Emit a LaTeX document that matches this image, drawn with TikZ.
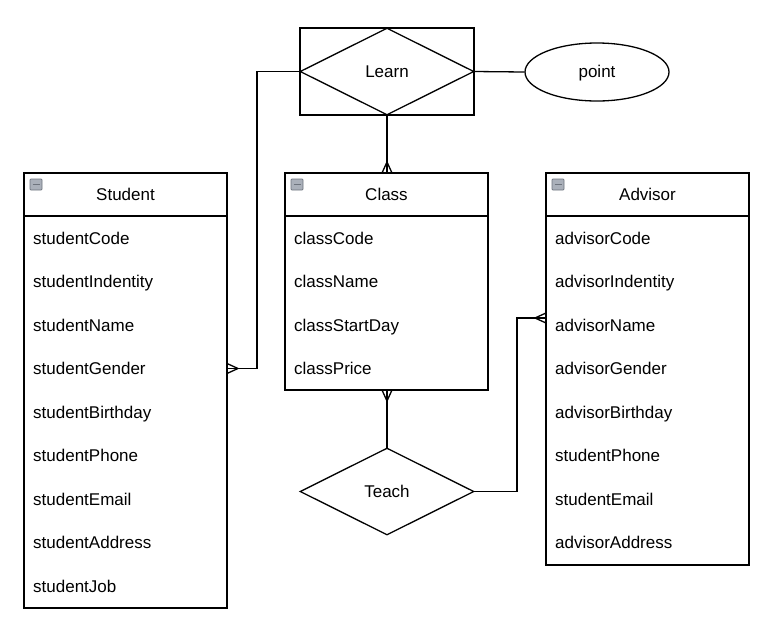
\documentclass[tikz,border=0pt]{standalone}
\usepackage{fontspec}
\setmainfont{Liberation Sans}
\usetikzlibrary{shapes.geometric,calc}
\definecolor{iconfill}{RGB}{170,176,186}
\definecolor{icondraw}{RGB}{110,116,126}
\tikzset{
  ent/.style={draw=black, line width=1.3pt, fill=white},
  lbl/.style={font=\fontsize{17}{20}\selectfont, inner sep=0pt},
  attr/.style={lbl, anchor=base west},
  ttl/.style={lbl, anchor=base},
  conn/.style={draw=black, line width=1.3pt},
  icon/.style={draw=icondraw, fill=iconfill, line width=0.7pt, rounded corners=0.8pt},
}
\newcommand{\crowfoot}[3]{% tip point, edge point, perpendicular offset vector
  \draw[conn] (#1) -- ($(#2)+(#3)$);
  \draw[conn] (#1) -- (#2);
  \draw[conn] (#1) -- ($(#2)-(#3)$);
}
\begin{document}
\begin{tikzpicture}[x=1pt,y=-1pt]
\useasboundingbox (0,0) rectangle (780,641);
% Learn
\draw[ent] (300,28) rectangle (474,115);
\node[draw, line width=1.3pt, diamond, aspect=2, minimum width=174pt, minimum height=87pt, inner sep=0pt] (learn) at (387,71.5) {};
\node[ttl] at (387,77.5) {Learn};
\coordinate (learnL) at (300,71.5);
\coordinate (learnR) at (474,71.5);
\coordinate (learnB) at (387,115);
% point
\node[draw, line width=1.3pt, ellipse, minimum width=144pt, minimum height=58pt, inner sep=0pt] (point) at (597,72) {};
\node[ttl] at (597,77.5) {point};
\draw[conn] (learnR) -- (point.west);
% Student
\draw[ent] (24,173) rectangle (227,608);
\draw[conn] (24,216) -- (227,216);
\node[ttl] (student) at (125.5,200) {Student};
\draw[icon] (30,179) rectangle (42,190);
\draw[draw=icondraw, line width=1.2pt] (32.5,184.5) -- (39.5,184.5);
\foreach \t [count=\i from 0] in {studentCode,studentIndentity,studentName,studentGender,studentBirthday,studentPhone,studentEmail,studentAddress,studentJob}
  \node[attr] at (33,{244+43.5*\i}) {\t};
% Class
\draw[ent] (285,173) rectangle (488,390);
\draw[conn] (285,216) -- (488,216);
\node[ttl] (class) at (386.5,200) {Class};
\draw[icon] (291,179) rectangle (303,190);
\draw[draw=icondraw, line width=1.2pt] (293.5,184.5) -- (300.5,184.5);
\foreach \t [count=\i from 0] in {classCode,className,classStartDay,classPrice}
  \node[attr] at (294,{244+43.5*\i}) {\t};
% Advisor
\draw[ent] (546,173) rectangle (749,565);
\draw[conn] (546,216) -- (749,216);
\node[ttl] (advisor) at (647.5,200) {Advisor};
\draw[icon] (552,179) rectangle (564,190);
\draw[draw=icondraw, line width=1.2pt] (554.5,184.5) -- (561.5,184.5);
\foreach \t [count=\i from 0] in {advisorCode,advisorIndentity,advisorName,advisorGender,advisorBirthday,studentPhone,studentEmail,advisorAddress}
  \node[attr] at (555,{244+43.5*\i}) {\t};
% Teach
\node[draw, line width=1.3pt, diamond, aspect=2, minimum width=174pt, minimum height=87pt, inner sep=0pt, fill=white] (teach) at (387,491.5) {};
\node[ttl] at (387,497.5) {Teach};
\coordinate (teachT) at (387,448);
\coordinate (teachR) at (474,491.5);
% connectors
\coordinate (classT) at (387,173);
\coordinate (classB) at (387,390);
\draw[conn] (learnB) -- (classT);
\crowfoot{387,162}{387,173}{5,0}
\draw[conn] (teachT) -- (classB);
\crowfoot{387,401}{387,390}{5,0}
\coordinate (stuC) at (227,368.5);
\draw[conn] (learnL) -| (257,368.5) -- (stuC);
\crowfoot{238,368.5}{227,368.5}{0,5}
\coordinate (advC) at (546,318);
\draw[conn] (teachR) -| (517,318) -- (advC);
\crowfoot{535,318}{546,318}{0,5}
\end{tikzpicture}
\end{document}
